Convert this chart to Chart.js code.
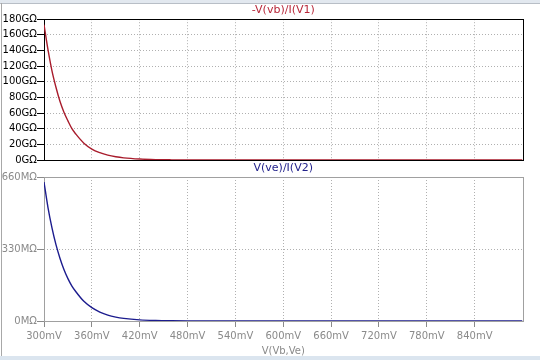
<!DOCTYPE html>
<html>
<head>
<meta charset="utf-8">
<script src="https://cdn.jsdelivr.net/npm/chart.js@4"></script>
<style>
  body { margin: 0; background: #fff; width: 540px; height: 360px; overflow: hidden; position: relative; }
  canvas { position: absolute; left: 0; }
  #topCanvas { top: 0; }
  #bottomCanvas { top: 160px; }
  .chrome-top { position: absolute; left: 0; top: 0; width: 540px; height: 3px; background: #e2e8ef; border-bottom: 1px solid #b8bec6; }
  .chrome-left { position: absolute; left: 1px; top: 3px; width: 1px; height: 353px; background: #a8a8a8; }
  .chrome-bottom { position: absolute; left: 0; top: 356px; width: 540px; height: 4px; background: #dbe5ef; }
</style>
</head>
<body>
<div class="chrome-top"></div>
<div class="chrome-left"></div>
<div class="chrome-bottom"></div>
<canvas id="topCanvas" width="540" height="170"></canvas>
<canvas id="bottomCanvas" width="540" height="200"></canvas>
<script>
// sweep voltage V(Vb,Ve) in mV
const sweepMv = [300, 305, 310, 315, 320, 325, 330, 335, 340, 350, 360, 370, 380, 390, 400, 420, 440, 460, 480, 520, 560, 600, 700, 800, 900];
// -V(vb)/I(V1) in GOhm
const baseResG = [173, 141, 114, 93, 75, 61, 50, 40, 33, 21.5, 14, 9.4, 6.2, 4.1, 2.7, 1.2, 0.5, 0.22, 0.1, 0.02, 0, 0, 0, 0, 0];
// V(ve)/I(V2) in MOhm
const emitResM = [637, 520, 427, 350, 288, 236, 194, 160, 134, 90, 61, 41, 27, 18, 12, 5.3, 2.4, 1.1, 0.5, 0.1, 0, 0, 0, 0, 0];

const xTicks = [300, 360, 420, 480, 540, 600, 660, 720, 780, 840];
const topYTicks = [0, 20, 40, 60, 80, 100, 120, 140, 160, 180];
const bottomYTicks = [0, 330, 660];

const font = { family: 'DejaVu Sans', size: 10 };
const dotted = [1, 2];

// frame round the plot area, drawn under the curve
const framePlugin = {
  id: 'frame',
  beforeDatasetsDraw(chart, args, opts) {
    const { ctx, chartArea: a } = chart;
    ctx.save();
    ctx.strokeStyle = opts.color;
    ctx.lineWidth = 1;
    ctx.strokeRect(Math.round(a.left) + 0.5, Math.round(a.top) + 0.5,
      Math.round(a.right - a.left), Math.round(a.bottom - a.top));
    ctx.restore();
  }
};

const fixWidth = (scale) => { scale.width = 44; };
const keepTicks = (list) => (scale) => {
  scale.ticks = list.map((v) => ({ value: v }));
};

function makeChart(id, cfg) {
  return new Chart(document.getElementById(id), {
    type: 'line',
    data: {
      labels: sweepMv,
      datasets: [{
        data: sweepMv.map((v, i) => ({ x: v, y: cfg.values[i] })),
        borderColor: cfg.lineColor,
        borderWidth: 1.4,
        pointRadius: 0,
        cubicInterpolationMode: 'monotone',
        fill: false,
      }],
    },
    options: {
      responsive: false,
      animation: false,
      devicePixelRatio: 1,
      layout: { padding: { left: 0, right: 17.5, top: 0, bottom: cfg.bottomPad } },
      plugins: {
        legend: { display: false },
        tooltip: { enabled: false },
        title: {
          display: true,
          text: cfg.title,
          color: cfg.titleColor,
          fullSize: false,
          font: { family: 'DejaVu Sans', size: 11, weight: 'normal' },
          padding: cfg.titlePad,
        },
        frame: { color: cfg.frameColor },
      },
      scales: {
        x: {
          type: 'linear',
          min: 300,
          max: 900,
          afterBuildTicks: keepTicks(xTicks),
          afterFit: cfg.showX ? (s) => { s.height = 39; } : (s) => { s.height = 0; },
          border: { display: false, dash: dotted },
          grid: {
            color: '#b0b0b0',
            drawTicks: cfg.showX,
            tickLength: 6,
            tickColor: cfg.textColor,
            tickBorderDash: [],
          },
          ticks: {
            display: cfg.showX,
            color: cfg.textColor,
            font: font,
            padding: 3,
            maxRotation: 0,
            autoSkip: false,
            callback: (v) => v + 'mV',
          },
          title: {
            display: cfg.showX,
            text: 'V(Vb,Ve)',
            color: cfg.textColor,
            font: font,
            padding: { top: 0, bottom: 2.5 },
          },
        },
        y: {
          min: 0,
          max: cfg.yMax,
          afterBuildTicks: keepTicks(cfg.yTicks),
          afterFit: fixWidth,
          border: { display: false, dash: dotted },
          grid: {
            color: '#b0b0b0',
            tickLength: 7,
            tickColor: cfg.textColor,
            tickBorderDash: [],
          },
          ticks: {
            color: cfg.textColor,
            font: font,
            padding: 0,
            autoSkip: false,
            callback: (v) => v + cfg.unit,
          },
        },
      },
    },
    plugins: [framePlugin],
  });
}

makeChart('topCanvas', {
  values: baseResG,
  title: '-V(vb)/I(V1)',
  titleColor: '#b8283a',
  lineColor: '#a81c2c',
  frameColor: '#000000',
  textColor: '#000000',
  titlePad: { top: 4, bottom: 2 },
  bottomPad: 10,
  showX: false,
  yMax: 180,
  yTicks: topYTicks,
  unit: 'GΩ',
});

makeChart('bottomCanvas', {
  values: emitResM,
  title: 'V(ve)/I(V2)',
  titleColor: '#22228c',
  lineColor: '#1c1c8e',
  frameColor: '#a0a0a0',
  textColor: '#8a8a8a',
  titlePad: { top: 1.4, bottom: 2.4 },
  bottomPad: 0,
  showX: true,
  yMax: 660,
  yTicks: bottomYTicks,
  unit: 'MΩ',
});
</script>
</body>
</html>
